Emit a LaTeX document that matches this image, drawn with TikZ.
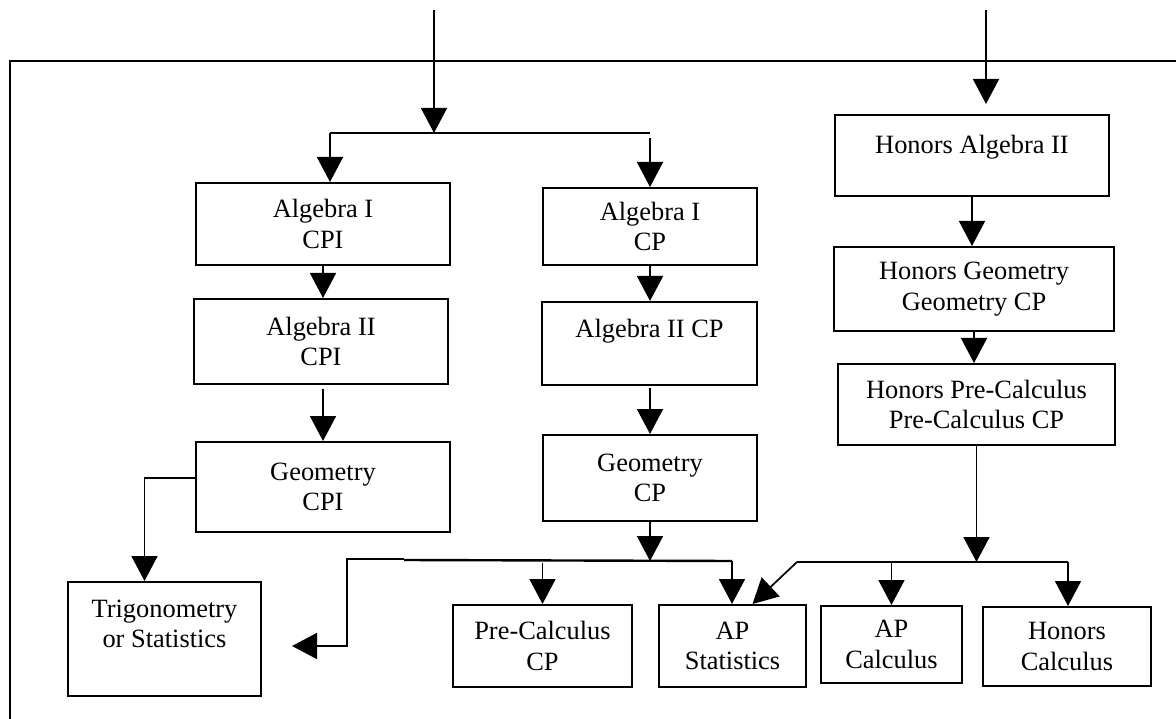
\documentclass[tikz,border=0pt]{standalone}
\usepackage{fontspec}
\setmainfont{Liberation Serif}
\usetikzlibrary{arrows.meta}
\tikzset{
  course/.style={draw,line width=2pt,inner sep=0pt,align=center,
    font=\fontsize{26.4}{30.5}\selectfont},
  flow/.style={line width=1.7pt,-{Triangle[width=26pt,length=25pt]}},
  rail/.style={line width=2.4pt}
}
\begin{document}
\begin{tikzpicture}[x=1pt,y=-1pt]
\useasboundingbox (0,0) rectangle (1176,719);
% frame
\draw[line width=1.6pt] (1176,61) -- (10,61) -- (10,719);
% left column
\node[course,minimum width=254pt,minimum height=82pt] (a1cpi) at (323,224) {Algebra I\\CPI};
\node[course,minimum width=254pt,minimum height=85pt] (a2cpi) at (321,341.5) {Algebra II\\CPI};
\node[course,minimum width=254pt,minimum height=90pt] (gcpi) at (323,487) {Geometry\\CPI};
% middle column
\node[course,minimum width=214pt,minimum height=77pt] (a1cp) at (650,226.5) {Algebra I\\CP};
\node[course,minimum width=215pt,minimum height=83pt] (a2cp) at (649.5,343.5) {Algebra II CP\\~};
\node[course,minimum width=214pt,minimum height=86pt] (gcp) at (650,478) {Geometry\\CP};
% right column
\node[course,minimum width=274pt,minimum height=81pt] (halg) at (972,155.5) {Honors Algebra II\\[-8pt]~};
\node[course,minimum width=280pt,minimum height=84pt] (hgeo) at (974,289) {Honors Geometry\\Geometry CP};
\node[course,minimum width=277pt,minimum height=81pt] (hpre) at (976.5,404.5) {Honors Pre-Calculus\\Pre-Calculus CP};
% bottom row
\node[course,minimum width=193pt,minimum height=114pt] (trig) at (164.5,639) {Trigonometry\\or Statistics\\~};
\node[course,minimum width=179pt,minimum height=82pt] (pcal) at (542.5,646) {Pre-Calculus\\CP};
\node[course,minimum width=147pt,minimum height=82pt] (apstat) at (732.5,646) {AP\\Statistics};
\node[course,minimum width=141pt,minimum height=77pt] (apcalc) at (891.5,644.5) {AP\\Calculus};
\node[course,minimum width=168pt,minimum height=79pt] (hcalc) at (1067,646.5) {Honors\\Calculus};
% entry points and bars
\coordinate (inL) at (434,10);
\coordinate (inR) at (986,10);
\coordinate (tbL) at (330,133);
\coordinate (tbR) at (650,133);
\coordinate (mbL) at (347,559);
\coordinate (mbM) at (404,559);
\coordinate (mbR) at (732,561);
\coordinate (rbL) at (797,562);
\coordinate (rbR) at (1068,562);
% top split
\draw[flow] (inL) -- (inL |- tbL);
\draw[rail] (tbL) -- (tbR);
\draw[flow] (tbL) -- (tbL |- a1cpi.north);
\draw[flow] ([yshift=-5pt]tbR) -- (tbR |- a1cp.north);
\draw[flow,shorten >=10pt] (inR) -- (inR |- halg.north);
% left column
\draw[flow] (a1cpi.south) -- (a2cpi.north -| a1cpi.south);
\draw[flow] ([yshift=-4pt]a2cpi.south -| a1cpi.south) -- (gcpi.north);
\draw[flow] ([yshift=9pt]gcpi.west) -| ([xshift=-20pt]trig.north);
% middle column
\draw[flow] (a1cp.south) -- (a2cp.north -| a1cp.south);
\draw[flow] ([yshift=-2pt]a2cp.south -| a1cp.south) -- (gcp.north);
\draw[flow] (gcp.south) -- (gcp.south |- mbR);
\draw[rail] ([yshift=-1pt]mbM) -- (mbR);
\draw[flow] (mbM) -- (mbL) |- ([xshift=30pt,yshift=-7pt]trig.east);
\draw[flow] (mbR) -- (mbR |- apstat.north);
\draw[flow] ([yshift=-2pt]pcal.north |- mbR) -- (pcal.north);
% right column
\draw[flow] (halg.south) -- (halg.south |- hgeo.north);
\draw[flow] (hgeo.south) -- (hgeo.south |- hpre.north);
\draw[flow] (hpre.south) -- (hpre.south |- rbL);
\draw[rail] (rbL) -- (rbR);
\draw[flow] (rbL) -- ([xshift=20pt]apstat.north);
\draw[flow] (rbL -| apcalc.north) -- (apcalc.north);
\draw[flow] (rbR) -- (rbR |- hcalc.north);
\end{tikzpicture}
\end{document}
